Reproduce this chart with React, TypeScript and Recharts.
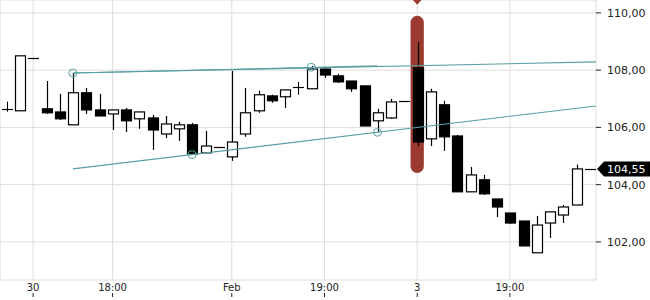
import {
  ComposedChart,
  Bar,
  XAxis,
  YAxis,
  CartesianGrid,
  ReferenceLine,
  ReferenceArea,
  ReferenceDot,
} from 'recharts';

// OHLC per candle, left to right
const OPEN = [
  106.65, 106.58, 108.43, 106.65, 106.54, 106.09, 107.21, 106.61, 106.47, 106.61,
  106.3, 106.33, 105.77, 105.95, 106.09, 105.11, 105.33, 104.97, 105.77, 106.58,
  107.1, 107.07, 107.41, 107.35, 108.04, 107.8, 107.62, 107.45, 106.23, 106.33,
  106.93, 108.08, 105.6, 106.79, 105.7, 103.75, 104.17, 103.5, 103.01, 102.73,
  101.62, 102.66, 102.94, 103.29, 104.55,
];
const HIGH = [
  106.9, 108.5, 108.43, 107.62, 107.17, 107.9, 107.38, 107.17, 106.61, 106.68,
  106.54, 106.44, 106.4, 106.19, 106.16, 105.88, 105.33, 107.97, 107.38, 107.28,
  107.14, 107.31, 107.59, 108.15, 108.08, 107.87, 107.62, 107.45, 106.65, 107.0,
  106.93, 108.99, 107.35, 106.93, 105.74, 104.62, 104.34, 103.5, 103.01, 102.73,
  102.91, 103.05, 103.29, 104.7, 104.55,
];
const LOW = [
  106.55, 106.58, 108.43, 106.47, 106.26, 106.09, 106.47, 106.4, 105.91, 105.84,
  105.95, 105.21, 105.63, 105.53, 105.04, 105.11, 105.33, 104.83, 105.67, 106.51,
  106.86, 106.68, 107.14, 107.35, 107.73, 107.55, 107.24, 106.05, 105.84, 106.3,
  106.93, 105.35, 105.35, 105.18, 103.75, 103.75, 103.64, 102.87, 102.63, 101.86,
  101.62, 102.14, 102.66, 103.29, 104.55,
];
const CLOSE = [
  106.65, 108.5, 108.43, 106.51, 106.3, 107.21, 106.61, 106.4, 106.61, 106.23,
  106.54, 105.91, 106.12, 106.09, 105.07, 105.35, 105.33, 105.49, 106.51, 107.14,
  106.93, 107.31, 107.41, 108.04, 107.83, 107.59, 107.35, 106.05, 106.51, 106.89,
  106.93, 105.49, 107.24, 105.67, 103.75, 104.34, 103.68, 103.22, 102.66, 101.86,
  102.59, 103.05, 103.22, 104.55, 104.55,
];

const TICK_INDEX = [2, 8, 17, 24, 31, 38];
const TICK_LABELS = ['30', '18:00', 'Feb', '19:00', '3', '19:00'];
const Y_TICKS = [102, 104, 106, 108, 110];
const Y_DOMAIN = [100.67, 110.45];

const LAST_PRICE = 104.55;
const EVENT_INDEX = 31;
const EVENT_RANGE = [104.41, 109.9];

// trend lines: [index, price] pairs
const UPPER_LINE = [[5, 107.9], [44.5, 108.29]];
const UPPER_SHORT = [[5, 107.9], [28, 108.15]];
const LOWER_LINE = [[5, 104.55], [44.5, 106.75]];
const ANCHORS = [[5, 107.9], [14, 105.05], [23, 108.1], [28, 105.83]];

const FONT = "'DejaVu Sans', sans-serif";
const TEAL = '#5a9fa3';
const TEXT = '#222';

const data = OPEN.map((o, i) => ({
  i,
  open: o,
  high: HIGH[i],
  low: LOW[i],
  close: CLOSE[i],
  range: [LOW[i], HIGH[i]],
}));

const fmt = (v: number) => v.toFixed(2).replace('.', ',');

function Candle(props: any) {
  const { x, y, width, height, payload } = props;
  const { open, high, low, close } = payload;
  const k = height > 0 && high > low ? height / (high - low) : 0;
  const yOf = (v: number) => y + (high - v) * k;
  const cx = Math.round(x + width / 2) + 0.5;
  const left = cx - 5;
  const w = 10;

  if (open === close) {
    const yc = Math.round(yOf(open)) + 0.5;
    return (
      <g>
        {k > 0 && <line x1={cx} x2={cx} y1={yOf(high)} y2={yOf(low)} stroke="#000" />}
        <line x1={left - 0.5} x2={left + w + 0.5} y1={yc} y2={yc} stroke="#000" strokeWidth={1.2} />
      </g>
    );
  }

  const up = close > open;
  const top = yOf(Math.max(open, close));
  const bottom = yOf(Math.min(open, close));
  return (
    <g>
      <line x1={cx} x2={cx} y1={yOf(high)} y2={yOf(low)} stroke="#000" strokeWidth={1.2} />
      <rect
        x={left}
        y={top}
        width={w}
        height={Math.max(1, bottom - top)}
        fill={up ? '#fff' : '#000'}
        stroke="#000"
        strokeWidth={1.2}
      />
    </g>
  );
}

function TimeTick({ x, y, payload }: any) {
  const label = TICK_LABELS[TICK_INDEX.indexOf(payload.value)] ?? '';
  return (
    <g>
      <text x={x} y={y + 11} textAnchor="middle" fill={TEXT} fontSize={10} fontFamily={FONT}>
        {label}
      </text>
      <line x1={x} x2={x} y1={y + 13} y2={y + 17} stroke={TEXT} />
    </g>
  );
}

function EventPill({ x, y, width, height }: any) {
  const cx = x + width / 2;
  return (
    <g>
      <polygon
        points={`${cx - 4.5},${y - 16} ${cx + 4.5},${y - 16} ${cx},${y - 11}`}
        fill="#9b3a31"
      />
      <rect x={x} y={y} width={width} height={height} rx={width / 2} fill="#9b3a31" />
    </g>
  );
}

function PriceTag(props: any) {
  const vb = props.viewBox || {};
  const xr = vb.x + vb.width;
  const cy = vb.y;
  return (
    <g>
      <polygon
        points={`${xr + 1},${cy} ${xr + 8},${cy - 7.5} ${650},${cy - 7.5} ${650},${cy + 7.5} ${xr + 8},${cy + 7.5}`}
        fill="#000"
      />
      <text x={xr + 11} y={cy + 4} fill="#fff" fontSize={11} fontFamily={FONT}>
        {fmt(LAST_PRICE)}
      </text>
    </g>
  );
}

export default function App() {
  return (
    <div style={{ position: 'absolute', left: 0, top: 0, width: 650, height: 300, background: '#fff' }}>
      <ComposedChart
        width={650}
        height={300}
        data={data}
        margin={{ top: 0, right: 0, bottom: 0, left: 0 }}
      >
        <CartesianGrid stroke="#dddddd" />
        <XAxis
          dataKey="i"
          type="category"
          ticks={TICK_INDEX}
          interval={0}
          tick={<TimeTick />}
          tickLine={false}
          axisLine={false}
          tickSize={0}
          tickMargin={0}
          height={20}
        />
        <XAxis xAxisId="n" type="number" dataKey="i" domain={[-0.5, 44.5]} hide allowDataOverflow />
        <YAxis
          orientation="right"
          width={54}
          domain={Y_DOMAIN}
          ticks={Y_TICKS}
          allowDataOverflow
          axisLine={false}
          tickLine={{ stroke: TEXT }}
          tickSize={5}
          tickMargin={6}
          tickFormatter={fmt}
          tick={{ fill: TEXT, fontSize: 11, fontFamily: FONT, textAnchor: 'start' }}
        />
        <ReferenceArea
          x1={EVENT_INDEX}
          x2={EVENT_INDEX}
          y1={EVENT_RANGE[0]}
          y2={EVENT_RANGE[1]}
          shape={<EventPill />}
          ifOverflow="visible"
        />
        <Bar dataKey="range" barSize={10} shape={<Candle />} isAnimationActive={false} />
        {[UPPER_LINE, UPPER_SHORT, LOWER_LINE].map((seg, n) => (
          <ReferenceLine
            key={n}
            xAxisId="n"
            segment={seg.map(([x, y]) => ({ x, y }))}
            stroke={TEAL}
            strokeWidth={1.1}
            ifOverflow="visible"
          />
        ))}
        {ANCHORS.map(([x, y], n) => (
          <ReferenceDot
            key={n}
            xAxisId="n"
            x={x}
            y={y}
            r={4}
            fill="none"
            stroke={TEAL}
            strokeWidth={1}
            ifOverflow="visible"
          />
        ))}
        <ReferenceLine y={LAST_PRICE} stroke="none" label={<PriceTag />} ifOverflow="visible" />
      </ComposedChart>
    </div>
  );
}
